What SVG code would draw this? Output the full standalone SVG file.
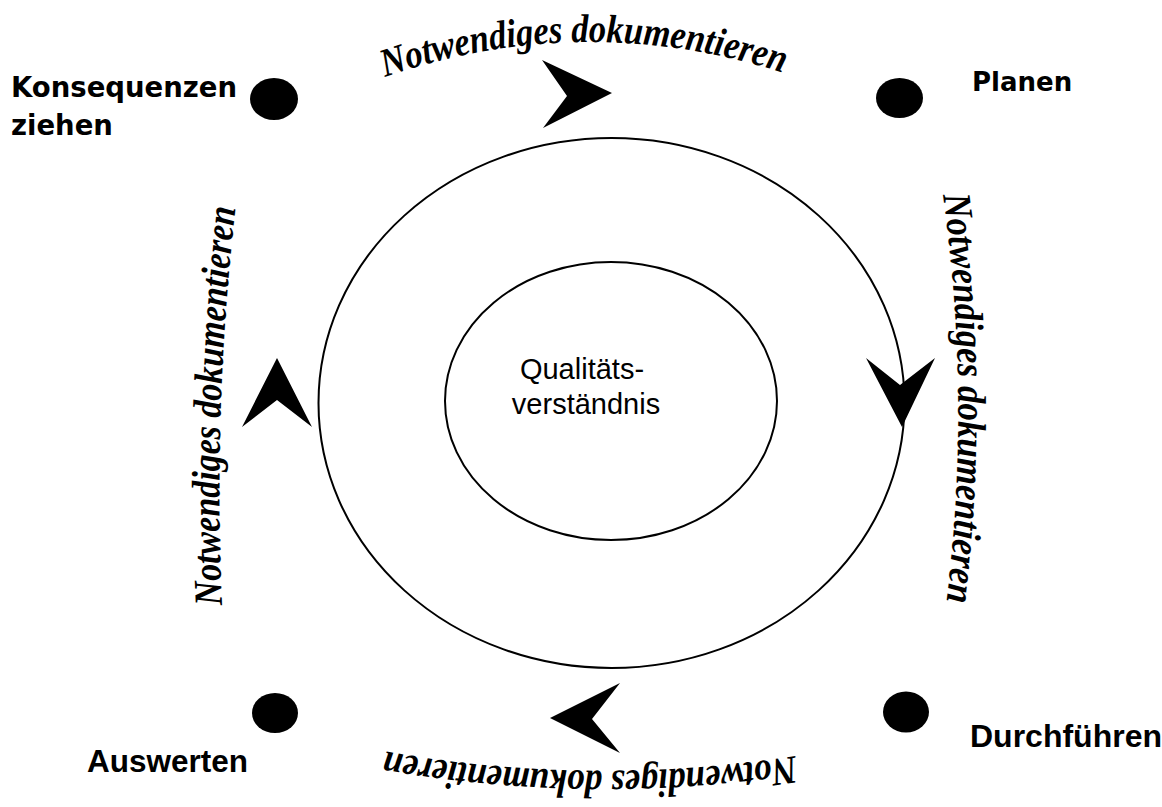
<svg xmlns="http://www.w3.org/2000/svg" width="1162" height="807" viewBox="0 0 1162 807">
<style>
.ring{fill:none;stroke:#000;stroke-width:2}
.dot{fill:#000}
.arrow{fill:#000}
.lblA{font-family:"DejaVu Sans",sans-serif;font-weight:bold;font-size:27.5px;fill:#000}
.lblB{font-family:"Liberation Sans",Arial,sans-serif;font-weight:bold;font-size:32px;fill:#000}
.center{font-family:"Liberation Sans",Arial,sans-serif;font-size:29px;fill:#000;text-anchor:middle}
.script{font-family:"Liberation Serif","DejaVu Serif",serif;font-weight:bold;font-style:italic;font-size:40px;fill:#000}
</style>
<defs>
<path id="pTop" d="M 385,77 A 619 619 0 0 1 795,77"/>
<path id="pRight" d="M 943,195 A 1545 1545 0 0 1 946,605"/>
<path id="pBottom" d="M 795,756 A 1245 1245 0 0 1 378,750"/>
<path id="pLeft" d="M 222,605 A 2500 2500 0 0 1 236,205"/>
</defs>
<g id="rings">
<ellipse class="ring" cx="611.5" cy="403" rx="293" ry="265"/>
</g>
<g id="center-node">
<ellipse class="ring" cx="611" cy="401" rx="166" ry="139"/>
<text class="center" x="582" y="379">Qualitäts-</text>
<text class="center" x="586" y="414">verständnis</text>
</g>
<g id="node-konsequenzen">
<ellipse class="dot" cx="274" cy="99" rx="24" ry="21"/>
<text class="lblA" x="11" y="97">Konsequenzen</text>
<text class="lblA" x="11" y="135">ziehen</text>
</g>
<g id="node-planen">
<ellipse class="dot" cx="899.5" cy="98" rx="23.5" ry="20"/>
<text class="lblA" x="972" y="91" style="font-size:26px">Planen</text>
</g>
<g id="node-durchfuehren">
<ellipse class="dot" cx="906" cy="712" rx="23" ry="20.5"/>
<text class="lblB" x="970" y="747">Durchführen</text>
</g>
<g id="node-auswerten">
<ellipse class="dot" cx="275" cy="713" rx="23" ry="20"/>
<text class="lblB" x="87" y="772" style="font-size:31.5px">Auswerten</text>
</g>
<g id="connectors">
<polygon class="arrow" points="542,60 612,93 543,128 567,96"/>
<polygon class="arrow" points="866,358 900,385 935,358 902,427"/>
<polygon class="arrow" points="620,683 592,719 620,753 550,718"/>
<polygon class="arrow" points="242,427 277,358 312,427 277,400"/>
<text class="script"><textPath href="#pTop" textLength="405" lengthAdjust="spacingAndGlyphs">Notwendiges dokumentieren</textPath></text>
<text class="script"><textPath href="#pRight" textLength="408" lengthAdjust="spacingAndGlyphs">Notwendiges dokumentieren</textPath></text>
<text class="script"><textPath href="#pBottom" textLength="412" lengthAdjust="spacingAndGlyphs">Notwendiges dokumentieren</textPath></text>
<text class="script"><textPath href="#pLeft" textLength="398" lengthAdjust="spacingAndGlyphs">Notwendiges dokumentieren</textPath></text>
</g>
</svg>
